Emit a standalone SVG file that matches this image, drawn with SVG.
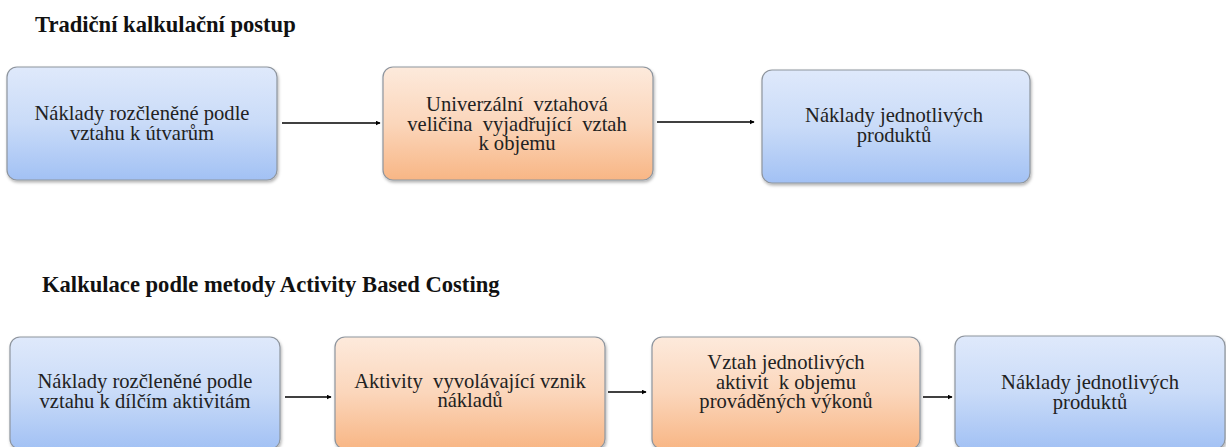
<svg xmlns="http://www.w3.org/2000/svg" width="1226" height="447" viewBox="0 0 1226 447">
<style>
.title{font-family:"Liberation Serif","Times New Roman",serif;font-weight:bold;font-size:22.6px;fill:#111}
.t{font-family:"Liberation Serif","Times New Roman",serif;font-size:20.6px;fill:#222;text-anchor:middle;white-space:pre}
.blue{fill:url(#gb);stroke:#8e959e;stroke-width:1.2}
.orange{fill:url(#go);stroke:#8e959e;stroke-width:1.2}
.c{stroke:#000;stroke-width:1.5;fill:none;marker-end:url(#ah)}
</style>
<defs>
<linearGradient id="gb" x1="0" y1="0" x2="0" y2="1">
<stop offset="0" stop-color="#dfe9fb"/><stop offset="0.5" stop-color="#c9dbf8"/><stop offset="1" stop-color="#a2c1f4"/>
</linearGradient>
<linearGradient id="go" x1="0" y1="0" x2="0" y2="1">
<stop offset="0" stop-color="#fdeadc"/><stop offset="0.5" stop-color="#fbd6bb"/><stop offset="1" stop-color="#f8b685"/>
</linearGradient>
<filter id="sh" x="-5%" y="-5%" width="110%" height="115%">
<feDropShadow dx="1" dy="2" stdDeviation="1.5" flood-color="#000" flood-opacity="0.3"/>
</filter>
<marker id="ah" viewBox="0 0 8 8" refX="7" refY="4" markerWidth="5" markerHeight="5" orient="auto" markerUnits="userSpaceOnUse">
<path d="M0,0 L8,4 L0,8 z" fill="#000"/>
</marker>
</defs>
<rect width="1226" height="447" fill="#fff"/>
<text class="title" x="35" y="32">Tradiční kalkulační postup</text>
<text class="title" x="42" y="292">Kalkulace podle metody Activity Based Costing</text>

<g id="n1">
<rect class="blue" x="7" y="67" width="270" height="113" rx="10" filter="url(#sh)"/>
<text class="t" x="142" y="120">Náklady rozčleněné podle</text>
<text class="t" x="142" y="140">vztahu k útvarům</text>
</g>
<g id="n2">
<rect class="orange" x="383" y="67" width="270" height="113" rx="10" filter="url(#sh)"/>
<text class="t" x="517" y="111">Univerzální  vztahová</text>
<text class="t" x="517" y="130.5">veličina  vyjadřující  vztah</text>
<text class="t" x="517" y="150">k objemu</text>
</g>
<g id="n3">
<rect class="blue" x="762" y="70" width="268" height="113" rx="10" filter="url(#sh)"/>
<text class="t" x="894" y="122">Náklady jednotlivých</text>
<text class="t" x="894" y="142">produktů</text>
</g>

<g id="m1">
<rect class="blue" x="10" y="337" width="270" height="112" rx="10" filter="url(#sh)"/>
<text class="t" x="145" y="388">Náklady rozčleněné podle</text>
<text class="t" x="145" y="408">vztahu k dílčím aktivitám</text>
</g>
<g id="m2">
<rect class="orange" x="335" y="337" width="270" height="112" rx="10" filter="url(#sh)"/>
<text class="t" x="470" y="388">Aktivity  vyvolávající vznik</text>
<text class="t" x="470" y="407">nákladů</text>
</g>
<g id="m3">
<rect class="orange" x="652" y="337" width="268" height="112" rx="10" filter="url(#sh)"/>
<text class="t" x="786" y="369">Vztah jednotlivých</text>
<text class="t" x="786" y="388.5">aktivit  k objemu</text>
<text class="t" x="786" y="408">prováděných výkonů</text>
</g>
<g id="m4">
<rect class="blue" x="955" y="336" width="270" height="113" rx="10" filter="url(#sh)"/>
<text class="t" x="1090" y="389">Náklady jednotlivých</text>
<text class="t" x="1090" y="409">produktů</text>
</g>

<g id="connectors">
<line class="c" x1="282" y1="123" x2="380" y2="123"/>
<line class="c" x1="657" y1="122" x2="754" y2="122"/>
<line class="c" x1="285" y1="397" x2="331" y2="397"/>
<line class="c" x1="608" y1="392" x2="646" y2="392"/>
<line class="c" x1="923" y1="397" x2="952" y2="397"/>
</g>
</svg>
